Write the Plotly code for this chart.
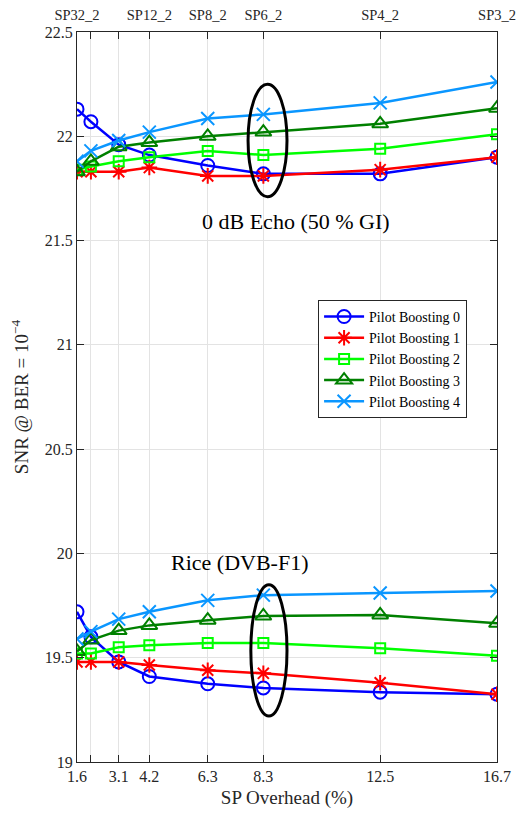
import plotly.graph_objects as go

# ---- data ----
sp_overhead = [1.6, 2.1, 3.1, 4.2, 6.3, 8.3, 12.5, 16.7]
bottom_tick_vals = [1.6, 3.1, 4.2, 6.3, 8.3, 12.5, 16.7]
bottom_tick_text = ["1.6", "3.1", "4.2", "6.3", "8.3", "12.5", "16.7"]
unlabeled_tick_vals = [2.1, 3.1]
top_tick_vals = [1.6, 4.2, 6.3, 8.3, 12.5, 16.7]
top_tick_text = ["SP32_2", "SP12_2", "SP8_2", "SP6_2", "SP4_2", "SP3_2"]

series_names = ["Pilot Boosting 0", "Pilot Boosting 1", "Pilot Boosting 2",
                "Pilot Boosting 3", "Pilot Boosting 4"]

echo_pb0 = [22.13, 22.07, 21.96, 21.91, 21.86, 21.82, 21.82, 21.90]
echo_pb1 = [21.83, 21.83, 21.83, 21.85, 21.81, 21.81, 21.84, 21.90]
echo_pb2 = [21.84, 21.855, 21.88, 21.90, 21.93, 21.91, 21.94, 22.01]
echo_pb3 = [21.83, 21.88, 21.95, 21.97, 22.00, 22.02, 22.06, 22.135]
echo_pb4 = [21.88, 21.93, 21.98, 22.02, 22.085, 22.105, 22.16, 22.26]

rice_pb0 = [19.72, 19.60, 19.48, 19.41, 19.375, 19.355, 19.335, 19.325]
rice_pb1 = [19.48, 19.48, 19.48, 19.465, 19.44, 19.425, 19.38, 19.325]
rice_pb2 = [19.52, 19.52, 19.55, 19.56, 19.57, 19.57, 19.545, 19.51]
rice_pb3 = [19.53, 19.585, 19.63, 19.655, 19.68, 19.70, 19.705, 19.665]
rice_pb4 = [19.59, 19.625, 19.685, 19.72, 19.775, 19.80, 19.81, 19.82]

echo_series = [echo_pb0, echo_pb1, echo_pb2, echo_pb3, echo_pb4]
rice_series = [rice_pb0, rice_pb1, rice_pb2, rice_pb3, rice_pb4]

y_ticks = [19, 19.5, 20, 20.5, 21, 21.5, 22, 22.5]

# ---- style ----
colors = ["#0000FF", "#FF0000", "#00FF00", "#008000", "#0A96FF"]
symbols = ["circle-open", "asterisk-open", "square-open", "triangle-up-open", "x-thin-open"]
msizes = [13, 13, 10, 14, 13]
FONT = "Liberation Serif"
AX = "#262626"
GRID = "#E3E3E3"

fig = go.Figure()

for i in range(5):
    for j, data in enumerate([echo_series[i], rice_series[i]]):
        fig.add_trace(go.Scatter(
            x=sp_overhead, y=data, mode="lines+markers",
            name=series_names[i], legendgroup=series_names[i],
            showlegend=(j == 0),
            line=dict(color=colors[i], width=2.5),
            marker=dict(symbol=symbols[i], size=msizes[i], color=colors[i],
                        line=dict(width=2, color=colors[i])),
        ))

# invisible trace to anchor top axis
fig.add_trace(go.Scatter(x=[sp_overhead[0]], y=[y_ticks[0]], xaxis="x2",
                         mode="markers", marker=dict(opacity=0),
                         showlegend=False, hoverinfo="skip"))

# ellipses highlighting SP6_2
ellipses = [
    dict(x0=7.75, x1=9.15, y0=21.71, y1=22.25),
    dict(x0=7.85, x1=9.15, y0=19.22, y1=19.85),
]
for e in ellipses:
    fig.add_shape(type="circle", xref="x", yref="y", line=dict(color="black", width=3),
                  **e)

fig.add_annotation(x=9.49, y=21.59, xref="x", yref="y", text="0 dB Echo (50 % GI)",
                   showarrow=False, font=dict(family=FONT, size=22, color="black"))
fig.add_annotation(x=7.45, y=19.955, xref="x", yref="y", text="Rice (DVB-F1)",
                   showarrow=False, font=dict(family=FONT, size=22, color="black"))

xr = [sp_overhead[0], sp_overhead[-1]]
# the page body adds an 8px offset, so the figure is sized to fit inside it
fig.update_layout(
    width=519, height=808,
    margin=dict(l=69, r=30, t=24, b=54, autoexpand=False),
    paper_bgcolor="white", plot_bgcolor="white",
    font=dict(family=FONT, size=16, color=AX),
    xaxis=dict(range=xr, tickmode="array", tickvals=bottom_tick_vals, ticktext=bottom_tick_text,
               ticks="inside", ticklen=7, tickcolor=AX, tickwidth=1,
               showline=True, linecolor=AX, linewidth=1, mirror="ticks",
               showgrid=True, gridcolor=GRID, gridwidth=1, zeroline=False,
               minor=dict(tickmode="array", tickvals=unlabeled_tick_vals,
                          ticks="inside", ticklen=7, tickcolor=AX, tickwidth=1,
                          showgrid=True, gridcolor=GRID, gridwidth=1),
               title=dict(text="SP Overhead (%)", font=dict(size=19), standoff=6)),
    xaxis2=dict(range=xr, overlaying="x", side="top", tickmode="array",
                tickvals=top_tick_vals, ticktext=top_tick_text, ticks="",
                ticklabelstandoff=8,
                showline=False, showgrid=False, zeroline=False, tickfont=dict(size=14.5)),
    yaxis=dict(range=[19, 22.5], tickmode="array", tickvals=y_ticks,
               ticktext=[("%g" % v) for v in y_ticks],
               ticks="inside", ticklen=7, tickcolor=AX, tickwidth=1,
               showline=True, linecolor=AX, linewidth=1, mirror="ticks",
               showgrid=True, gridcolor=GRID, gridwidth=1, zeroline=False,
               title=dict(text="SNR @ BER = 10<sup>−4</sup>", font=dict(size=19), standoff=12)),
    legend=dict(x=0.574, y=0.633, xanchor="left", yanchor="top",
                bgcolor="white", bordercolor=AX, borderwidth=1,
                font=dict(family=FONT, size=14, color="black"),
                itemwidth=40, tracegroupgap=0),
    showlegend=True,
)

fig.write_html("out.html")
